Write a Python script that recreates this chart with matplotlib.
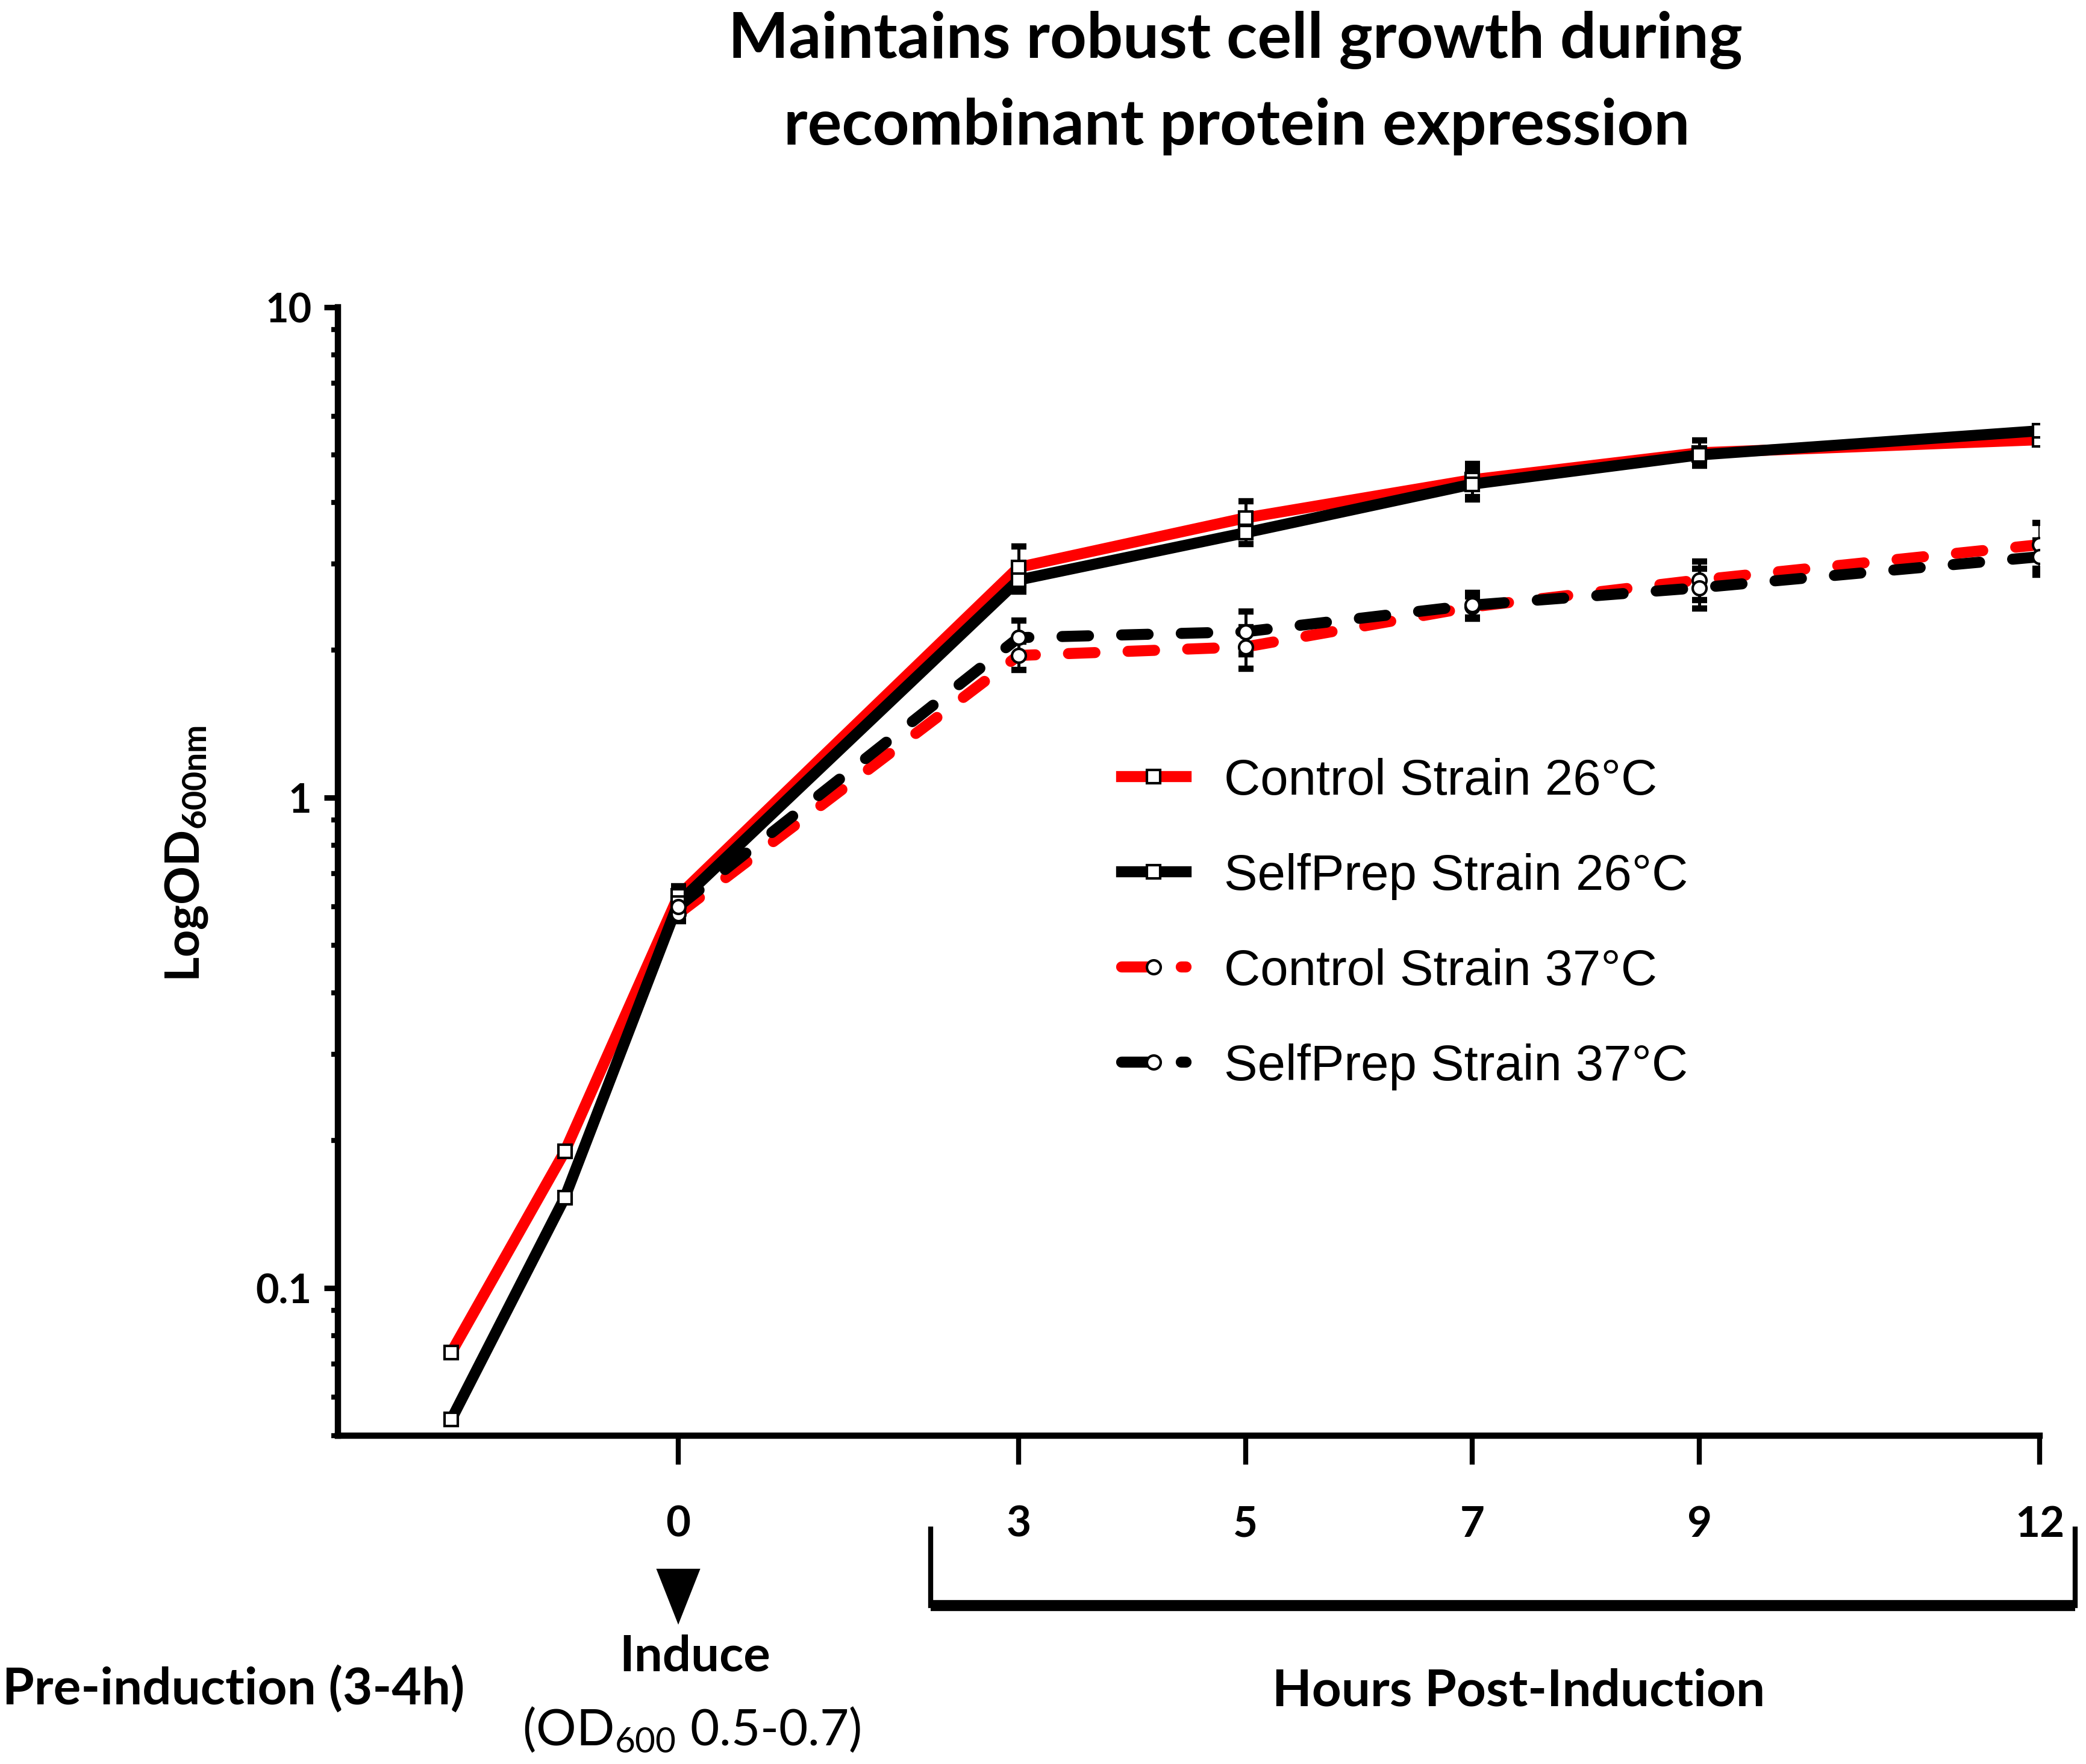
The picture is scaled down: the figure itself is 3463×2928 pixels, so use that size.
import matplotlib
matplotlib.use('Agg')
import matplotlib.pyplot as plt
import matplotlib.transforms as mtransforms
from matplotlib.lines import Line2D
from matplotlib.patches import Polygon
from matplotlib.ticker import LogLocator, NullFormatter, FixedLocator

plt.rcParams['font.family'] = ['Lato', 'DejaVu Sans']
plt.rcParams['mathtext.fontset'] = 'custom'
plt.rcParams['mathtext.rm'] = 'Lato'
plt.rcParams['mathtext.bf'] = 'Lato:bold'
plt.rcParams['mathtext.it'] = 'Lato:italic'

# data
hours_26 = [-2, -1, 0, 3, 5, 7, 9, 12]
control_26 = [0.074, 0.19, 0.63, 2.95, 3.72, 4.45, 5.05, 5.37]
control_26_err = [0, 0, 0.03, 0.30, 0.30, 0.35, 0.30, 0.10]
selfprep_26 = [0.054, 0.153, 0.61, 2.78, 3.47, 4.36, 5.00, 5.60]
selfprep_26_err = [0, 0, 0.03, 0.15, 0.18, 0.30, 0.15, 0.10]

hours_37 = [0, 3, 5, 7, 9, 12]
control_37 = [0.58, 1.95, 2.03, 2.45, 2.78, 3.28]
control_37_err = [0.02, 0.13, 0.20, 0.12, 0.25, 0.35]
selfprep_37 = [0.60, 2.12, 2.18, 2.47, 2.68, 3.10]
selfprep_37_err = [0.02, 0.18, 0.22, 0.15, 0.25, 0.25]

labels = ['Control Strain 26°C', 'SelfPrep Strain 26°C',
          'Control Strain 37°C', 'SelfPrep Strain 37°C']
xticks = [0, 3, 5, 7, 9, 12]
yticks = [0.1, 1, 10]
ytick_labels = ['0.1', '1', '10']

DASH = (0, (2.4, 3.0))
series = [
    (hours_26, control_26, control_26_err, 'red', '-', 's'),
    (hours_26, selfprep_26, selfprep_26_err, 'black', '-', 's'),
    (hours_37, control_37, control_37_err, 'red', DASH, 'o'),
    (hours_37, selfprep_37, selfprep_37_err, 'black', DASH, 'o'),
]

fig = plt.figure(figsize=(3463 / 300, 2928 / 300), dpi=300)
ax = fig.add_axes([0.1620, 0.1861, 0.8158, 0.6397])
ax.set_yscale('log')
ax.set_xlim(-3, 12)
ax.set_ylim(0.05, 10)

ax.axvline(0, color='black', lw=3, ls=(0, (0, 3.8)), dash_capstyle='round', zorder=1.5)

handles = []
for x, y, err, col, ls, mk in series:
    ax.plot(x, y, color=col, lw=4.4, ls=ls, dash_capstyle='round',
            solid_capstyle='round', zorder=2)
    ax.errorbar(x, y, yerr=err, fmt='none', ecolor='black', elinewidth=1.2,
                capsize=3, capthick=2.5, zorder=3)
    ax.plot(x, y, ls='none', marker=mk, ms=5.5, mfc='white', mec='black',
            mew=1, zorder=4)
    handles.append(Line2D([], [], color=col, lw=4.4, ls=ls, dash_capstyle='round',
                          marker=mk, ms=5.5, mfc='white', mec='black', mew=1))

leg = ax.legend(handles, labels, loc='upper left', bbox_to_anchor=(0.5377, 0.5705),
                bbox_transform=fig.transFigure, frameon=False, borderpad=0,
                borderaxespad=0, handlelength=1.28, handletextpad=0.76,
                labelspacing=0.96, prop={'family': 'Liberation Sans', 'size': 20})

for s in ['top', 'right']:
    ax.spines[s].set_visible(False)
for s in ['left', 'bottom']:
    ax.spines[s].set_linewidth(2.5)

ax.xaxis.set_major_locator(FixedLocator(xticks))
ax.set_xticklabels([str(t) for t in xticks], fontsize=17, fontweight='bold')
ax.tick_params(axis='x', which='major', length=11.5, width=2, pad=16)

ax.yaxis.set_major_locator(FixedLocator(yticks))
ax.set_yticklabels(ytick_labels, fontsize=16, fontweight='bold')
ax.yaxis.set_minor_locator(LogLocator(base=10, subs=range(2, 10)))
ax.yaxis.set_minor_formatter(NullFormatter())
ax.tick_params(axis='y', which='major', length=5.5, width=2.2, pad=5)
ax.tick_params(axis='y', which='minor', length=2.6, width=2)

fig.text(0.0895, 0.516, r'$\mathbf{LogOD_{600nm}}$', rotation=90,
         ha='center', va='center', fontsize=19)

fig.text(0.5923, 0.9672, 'Maintains robust cell growth during', ha='center',
         va='baseline', fontsize=25.5, fontweight='bold')
fig.text(0.5928, 0.918, 'recombinant protein expression', ha='center',
         va='baseline', fontsize=25.5, fontweight='bold')

# annotations below the x axis
blend = mtransforms.blended_transform_factory(ax.transData, ax.transAxes)
tri = Polygon([(-0.178, -0.119), (0.178, -0.119), (0, -0.1644)], closed=True,
              transform=blend, clip_on=False, color='black')
ax.add_patch(tri)
ax.plot([2.225, 12.31], [-0.1506, -0.1506], color='black', lw=4.4,
        transform=blend, clip_on=False, solid_capstyle='butt')
ax.plot([2.225, 2.225], [-0.0828, -0.1506], color='black', lw=2,
        transform=blend, clip_on=False)
ax.plot([12.31, 12.31], [-0.0828, -0.1506], color='black', lw=2,
        transform=blend, clip_on=False)

fig.text(0.333, 0.0526, 'Induce', ha='center', va='baseline', fontsize=20,
         fontweight='bold')
fig.text(0.3315, 0.0109, r'(OD$_{\mathrm{600}}$ 0.5-0.7)', ha='center',
         va='baseline', fontsize=20)
fig.text(0.0012, 0.0338, 'Pre-induction (3-4h)', ha='left', va='baseline',
         fontsize=20.5, fontweight='bold')
fig.text(0.728, 0.0331, 'Hours Post-Induction', ha='center', va='baseline',
         fontsize=20.5, fontweight='bold')

fig.savefig('out.png', dpi=300)
